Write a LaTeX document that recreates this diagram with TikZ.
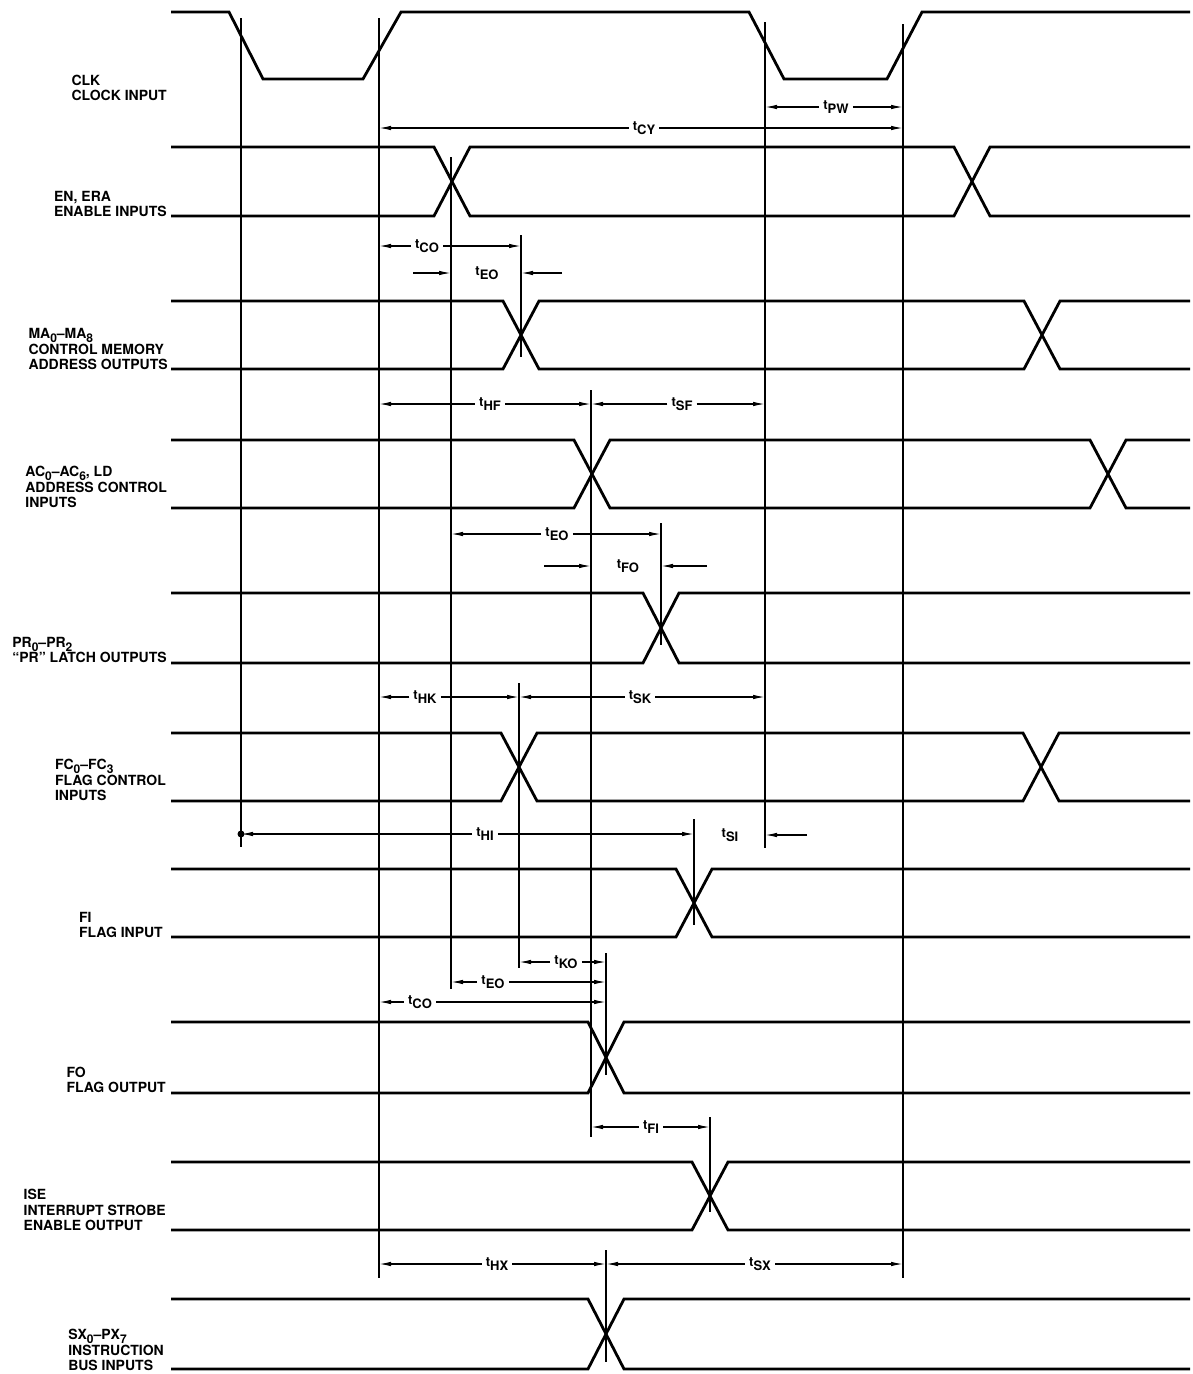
\documentclass[tikz,border=0pt]{standalone}
\usepackage{fontspec}
\setmainfont{TeX Gyre Heros}
\usetikzlibrary{arrows.meta}
\newcommand{\tsub}[1]{t\raisebox{-4pt}{#1}}
\newcommand{\lsub}[1]{\raisebox{-4pt}[0pt][0pt]{\fontsize{12}{12}\selectfont #1}}
\begin{document}
\begin{tikzpicture}[x=1pt, y=-1pt,
  sig/.style={line width=2.8pt},
  refline/.style={line width=1.2pt},
  dim/.style={line width=1.2pt, -{Latex[length=12pt,width=4.5pt]}},
  lbl/.style={anchor=south east, align=left, inner sep=0pt, text depth=0pt,
    font=\fontsize{14}{15.5}\selectfont\bfseries},
  tlbl/.style={inner sep=4pt, font=\fontsize{13}{13}\selectfont\bfseries}]
\useasboundingbox (0,0) rectangle (1193,1374);
% signal names
\node[lbl] (clk) at (167,101) {CLK\\CLOCK INPUT};
\node[lbl] (en) at (167,217) {EN, ERA\\ENABLE INPUTS};
\node[lbl] (ma) at (168,370) {MA\lsub{0}--MA\lsub{8}\\CONTROL MEMORY\\ADDRESS OUTPUTS};
\node[lbl] (ac) at (167,508) {AC\lsub{0}--AC\lsub{6}, LD\\ADDRESS CONTROL\\INPUTS};
\node[lbl] (pr) at (167,663) {PR\lsub{0}--PR\lsub{2}\\``PR'' LATCH OUTPUTS};
\node[lbl] (fc) at (166,801) {FC\lsub{0}--FC\lsub{3}\\FLAG CONTROL\\INPUTS};
\node[lbl] (fi) at (163,938) {FI\\FLAG INPUT};
\node[lbl] (fo) at (166,1093) {FO\\FLAG OUTPUT};
\node[lbl] (ise) at (166,1231) {ISE\\INTERRUPT STROBE\\ENABLE OUTPUT};
\node[lbl] (sx) at (164,1371) {SX\lsub{0}--PX\lsub{7}\\INSTRUCTION\\BUS INPUTS};
% waveforms
\draw[sig] (171,12) -- (229,12) -- (263,79) -- (363,79) -- (401,12) -- (749,12) -- (784,79) -- (887,79) -- (922,12) -- (1190,12);
\draw[sig] (171,147) -- (434,147) -- (470,216) -- (954,216) -- (990,147) -- (1190,147);
\draw[sig] (171,216) -- (434,216) -- (470,147) -- (954,147) -- (990,216) -- (1190,216);
\draw[sig] (171,301) -- (503,301) -- (539,369) -- (1024,369) -- (1060,301) -- (1190,301);
\draw[sig] (171,369) -- (503,369) -- (539,301) -- (1024,301) -- (1060,369) -- (1190,369);
\draw[sig] (171,440) -- (574,440) -- (610,508) -- (1090,508) -- (1126,440) -- (1190,440);
\draw[sig] (171,508) -- (574,508) -- (610,440) -- (1090,440) -- (1126,508) -- (1190,508);
\draw[sig] (171,593) -- (643,593) -- (679,663) -- (1190,663);
\draw[sig] (171,663) -- (643,663) -- (679,593) -- (1190,593);
\draw[sig] (171,733) -- (501,733) -- (537,801) -- (1023,801) -- (1059,733) -- (1190,733);
\draw[sig] (171,801) -- (501,801) -- (537,733) -- (1023,733) -- (1059,801) -- (1190,801);
\draw[sig] (171,869) -- (676,869) -- (712,937) -- (1190,937);
\draw[sig] (171,937) -- (676,937) -- (712,869) -- (1190,869);
\draw[sig] (171,1022) -- (588,1022) -- (624,1093) -- (1190,1093);
\draw[sig] (171,1093) -- (588,1093) -- (624,1022) -- (1190,1022);
\draw[sig] (171,1162) -- (692,1162) -- (728,1230) -- (1190,1230);
\draw[sig] (171,1230) -- (692,1230) -- (728,1162) -- (1190,1162);
\draw[sig] (171,1299) -- (588,1299) -- (624,1369) -- (1190,1369);
\draw[sig] (171,1369) -- (588,1369) -- (624,1299) -- (1190,1299);
% reference lines
\coordinate (vA) at (241,18);
\coordinate (vB) at (379,18);
\coordinate (vC) at (765,22);
\coordinate (vD) at (903,24);
\coordinate (vE) at (451,157);
\coordinate (vF) at (521,235);
\coordinate (vG) at (591,390);
\coordinate (vH) at (661,523);
\coordinate (vI) at (519,683);
\coordinate (vJ) at (694,819);
\coordinate (vK) at (606,953);
\coordinate (vL) at (710,1117);
\coordinate (vM) at (606,1250);
\draw[refline] (vA) -- ++(0,829);
\draw[refline] (vB) -- ++(0,1260);
\draw[refline] (vC) -- ++(0,826);
\draw[refline] (vD) -- ++(0,1254);
\draw[refline] (vE) -- ++(0,832);
\draw[refline] (vF) -- ++(0,122);
\draw[refline] (vG) -- ++(0,747);
\draw[refline] (vH) -- ++(0,122);
\draw[refline] (vI) -- ++(0,285);
\draw[refline] (vJ) -- ++(0,106);
\draw[refline] (vK) -- ++(0,122);
\draw[refline] (vL) -- ++(0,95);
\draw[refline] (vM) -- ++(0,112);
% timing parameters
\node[tlbl] (tpw) at (836,107) {\tsub{PW}};
\draw[dim] (tpw.west) -- (tpw.west -| vC);
\draw[dim] (tpw.east) -- (tpw.east -| vD);
\node[tlbl] (tcy) at (644,128) {\tsub{CY}};
\draw[dim] (tcy.west) -- (tcy.west -| vB);
\draw[dim] (tcy.east) -- (tcy.east -| vD);
\node[tlbl] (tco1) at (427,246) {\tsub{CO}};
\draw[dim] (tco1.west) -- (tco1.west -| vB);
\draw[dim] (tco1.east) -- (tco1.east -| vF);
\node[tlbl] (teo1) at (487,273) {\tsub{EO}};
\coordinate (eo1L) at (413,273);
\coordinate (eo1R) at (562,273);
\draw[dim] (eo1L) -- (eo1L -| vE);
\draw[dim] (eo1R) -- (eo1R -| vF);
\node[tlbl] (thf) at (490,404) {\tsub{HF}};
\draw[dim] (thf.west) -- (thf.west -| vB);
\draw[dim] (thf.east) -- (thf.east -| vG);
\node[tlbl] (tsf) at (682,404) {\tsub{SF}};
\draw[dim] (tsf.west) -- (tsf.west -| vG);
\draw[dim] (tsf.east) -- (tsf.east -| vC);
\node[tlbl] (teo2) at (557,534) {\tsub{EO}};
\draw[dim] (teo2.west) -- (teo2.west -| vE);
\draw[dim] (teo2.east) -- (teo2.east -| vH);
\node[tlbl] (tfo) at (628,566) {\tsub{FO}};
\coordinate (foL) at (544,566);
\coordinate (foR) at (707,566);
\draw[dim] (foL) -- (foL -| vG);
\draw[dim] (foR) -- (foR -| vH);
\node[tlbl] (thk) at (425,697) {\tsub{HK}};
\draw[dim] (thk.west) -- (thk.west -| vB);
\draw[dim] (thk.east) -- (thk.east -| vI);
\node[tlbl] (tsk) at (640,697) {\tsub{SK}};
\draw[dim] (tsk.west) -- (tsk.west -| vI);
\draw[dim] (tsk.east) -- (tsk.east -| vC);
\node[tlbl] (thi) at (485,834) {\tsub{HI}};
\draw[dim] (thi.west) -- (thi.west -| vA);
\fill (thi.west -| vA) circle (3.5);
\draw[dim] (thi.east) -- (thi.east -| vJ);
\node[tlbl] (tsi) at (730,835) {\tsub{SI}};
\coordinate (siR) at (807,835);
\draw[dim] (siR) -- (siR -| vC);
\node[tlbl] (tko) at (566,962) {\tsub{KO}};
\draw[dim] (tko.west) -- (tko.west -| vI);
\draw[dim] (tko.east) -- (tko.east -| vK);
\node[tlbl] (teo3) at (493,982) {\tsub{EO}};
\draw[dim] (teo3.west) -- (teo3.west -| vE);
\draw[dim] (teo3.east) -- (teo3.east -| vK);
\node[tlbl] (tco3) at (420,1002) {\tsub{CO}};
\draw[dim] (tco3.west) -- (tco3.west -| vB);
\draw[dim] (tco3.east) -- (tco3.east -| vK);
\node[tlbl] (tfi) at (651,1127) {\tsub{FI}};
\draw[dim] (tfi.west) -- (tfi.west -| vG);
\draw[dim] (tfi.east) -- (tfi.east -| vL);
\node[tlbl] (thx) at (497,1264) {\tsub{HX}};
\draw[dim] (thx.west) -- (thx.west -| vB);
\draw[dim] (thx.east) -- (thx.east -| vM);
\node[tlbl] (tsx) at (760,1264) {\tsub{SX}};
\draw[dim] (tsx.west) -- (tsx.west -| vM);
\draw[dim] (tsx.east) -- (tsx.east -| vD);
\end{tikzpicture}
\end{document}
